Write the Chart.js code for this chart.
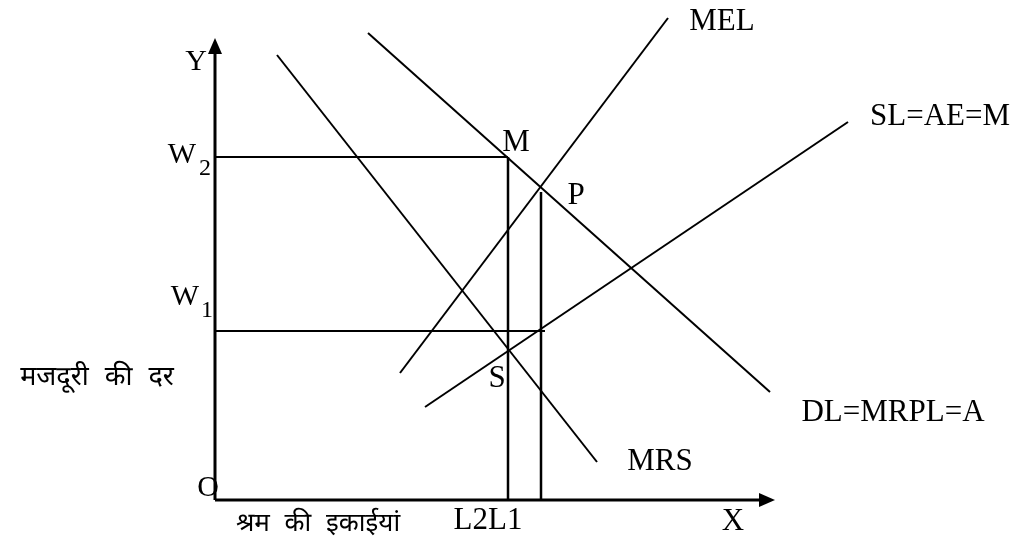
<!DOCTYPE html>
<html><head><meta charset="utf-8">
<script src="https://cdn.jsdelivr.net/npm/chart.js@4/dist/chart.umd.min.js"></script>
<style>html,body{margin:0;padding:0;background:#fff}#wrap{width:1016px;height:544px;position:relative}</style>
</head><body><div id="wrap"><canvas id="c"></canvas></div>
<script>
// value ranges of the diagram (labour units on x, wage rate on y)
const xRange = [-215, 801];
const yRange = [-44, 500];

// curves: [labour, wage] end points
const mrsLine = [[62, 445], [382, 38]];
const dlLine  = [[153, 467], [555, 108]];
const melLine = [[185, 127], [453, 482]];
const slLine  = [[210, 93], [633, 378]];

// key levels
const W2 = 343, L2 = 293;
const W1 = 169, L1 = 326, L1top = 308, W1end = 330;
const yAxisTop = 462, xAxisEnd = 560;

// text labels
const serif = "'Liberation Serif','Times New Roman',serif";
const deva = "'Noto Sans Devanagari','Lohit Devanagari','Mangal','Noto Sans',sans-serif";
const labels = [
  {t:'Y', x:-19, y:438, f:'30px '+serif},
  {t:'W', x:-33, y:345, f:'30px '+serif},
  {t:'2', x:-10, y:331, f:'24px '+serif},
  {t:'W', x:-30, y:203, f:'30px '+serif},
  {t:'1', x:-8, y:189, f:'24px '+serif},
  {t:'मजदूरी की दर', x:-118, y:120, f:'27px '+deva, ws:'9px'},
  {t:'O', x:-7, y:12, f:'30px '+serif},
  {t:'श्रम की इकाईयां', x:103, y:-26, f:'26px '+deva, ws:'8px'},
  {t:'L2L1', x:273, y:-21, f:'31px '+serif},
  {t:'X', x:518, y:-22, f:'31px '+serif},
  {t:'M', x:301, y:357, f:'31px '+serif},
  {t:'P', x:361, y:304, f:'31px '+serif},
  {t:'S', x:282, y:121, f:'31px '+serif},
  {t:'MRS', x:445, y:38, f:'31px '+serif},
  {t:'MEL', x:507, y:478, f:'31px '+serif},
  {t:'SL=AE=M', x:725, y:383, f:'31px '+serif},
  {t:'DL=MRPL=A', x:678, y:87, f:'31px '+serif}
];

const pts = arr => arr.map(p => ({x:p[0], y:p[1]}));
const seg = (data, w) => ({data, borderColor:'#000', borderWidth:w, showLine:true, pointRadius:0, fill:false, tension:0});

const datasets = [
  seg([{x:0,y:0},{x:0,y:yAxisTop-10}], 3),
  seg([{x:0,y:0},{x:xAxisEnd-10,y:0}], 3),
  seg([{x:0,y:W2},{x:L2,y:W2}], 2),
  seg([{x:L2,y:W2},{x:L2,y:0}], 2.5),
  seg([{x:0,y:W1},{x:W1end,y:W1}], 2),
  seg([{x:L1,y:L1top},{x:L1,y:0}], 2.5),
  seg(pts(mrsLine), 2),
  seg(pts(dlLine), 2),
  seg(pts(melLine), 2),
  seg(pts(slLine), 2)
];

const overlay = {
  id:'overlay',
  afterDatasetsDraw(chart){
    const ctx = chart.ctx, xs = chart.scales.x, ys = chart.scales.y;
    ctx.save();
    ctx.fillStyle = '#000';
    // arrow heads
    const ox = xs.getPixelForValue(0), oy = ys.getPixelForValue(0);
    const ty = ys.getPixelForValue(yAxisTop);
    ctx.beginPath(); ctx.moveTo(ox, ty); ctx.lineTo(ox-7, ty+16); ctx.lineTo(ox+7, ty+16); ctx.closePath(); ctx.fill();
    const tx = xs.getPixelForValue(xAxisEnd);
    ctx.beginPath(); ctx.moveTo(tx, oy); ctx.lineTo(tx-16, oy-7); ctx.lineTo(tx-16, oy+7); ctx.closePath(); ctx.fill();
    ctx.textAlign = 'center'; ctx.textBaseline = 'middle';
    labels.forEach(l => {
      ctx.font = l.f;
      ctx.wordSpacing = l.ws || '0px';
      ctx.fillText(l.t, xs.getPixelForValue(l.x), ys.getPixelForValue(l.y));
    });
    ctx.restore();
  }
};

new Chart(document.getElementById('c'), {
  type:'scatter',
  data:{datasets},
  options:{
    responsive:true, maintainAspectRatio:false, animation:false,
    layout:{padding:0},
    plugins:{legend:{display:false}, tooltip:{enabled:false}},
    scales:{
      x:{type:'linear', min:xRange[0], max:xRange[1], display:false},
      y:{type:'linear', min:yRange[0], max:yRange[1], display:false}
    }
  },
  plugins:[overlay]
});
</script></body></html>
